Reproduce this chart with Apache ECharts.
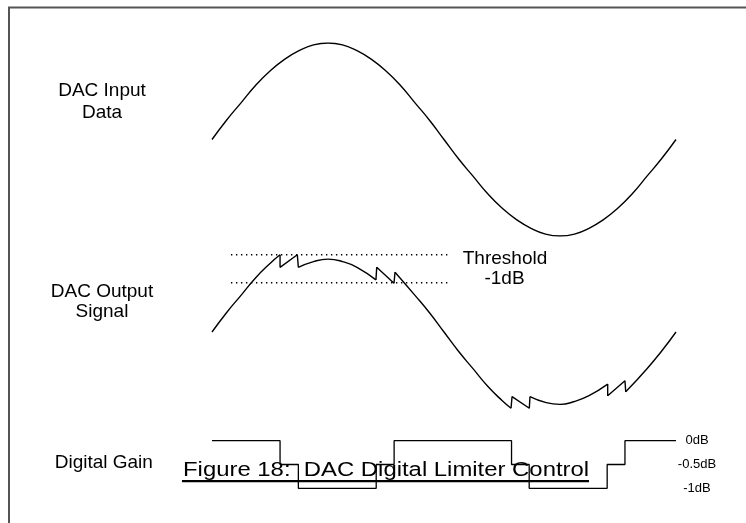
<!DOCTYPE html>
<html>
<head>
<meta charset="utf-8">
<script src="https://cdn.jsdelivr.net/npm/echarts@6/dist/echarts.min.js"></script>
<style>html,body{margin:0;padding:0;background:#fff}#chart{width:746px;height:523px}</style>
</head>
<body>
<div id="chart"></div>
<script>
// Phase axis (degrees) shared by all three traces
const inputPhase = [0, 11.25, 22.5, 33.75, 45, 56.25, 67.5, 78.75, 90, 101.25, 112.5, 123.75, 135, 146.25, 157.5, 168.75,
  180, 191.25, 202.5, 213.75, 225, 236.25, 247.5, 258.75, 270, 281.25, 292.5, 303.75, 315, 326.25, 337.5, 348.75, 360];
// DAC input data (normalised amplitude)
const inputData = [0, 0.2, 0.38, 0.56, 0.71, 0.83, 0.92, 0.98, 1, 0.98, 0.92, 0.83, 0.71, 0.56, 0.38, 0.2,
  0, -0.2, -0.38, -0.56, -0.71, -0.83, -0.92, -0.98, -1, -0.98, -0.92, -0.83, -0.71, -0.56, -0.38, -0.2, 0];

// DAC output signal, piecewise [phase, amplitude]
const outRise = [[0, 0], [11.25, 0.2], [22.5, 0.38], [33.75, 0.56], [45, 0.71], [52.8, 0.8]];
const outLimit1 = [[52.8, 0.8], [52.8, 0.67], [66.2, 0.8], [67, 0.67]];
const outArc1 = [[67, 0.67], [78.75, 0.73], [90, 0.755], [101.25, 0.73], [112.5, 0.67], [127.2, 0.54]];
const outRecover1 = [[127.2, 0.54], [127.8, 0.67], [141.2, 0.505], [142, 0.62]];
const outFall = [[142, 0.62], [157.5, 0.38], [168.75, 0.2], [180, 0], [191.25, -0.2], [202.5, -0.38], [213.75, -0.56], [225, -0.71], [232, -0.79]];
const outLimit2 = [[232, -0.79], [232.8, -0.67], [246.2, -0.79], [246.7, -0.67]];
const outArc2 = [[246.7, -0.67], [258.75, -0.73], [270, -0.75], [281.25, -0.72], [292.5, -0.66], [307, -0.54]];
const outRecover2 = [[307, -0.54], [307, -0.66], [320.4, -0.505], [321, -0.62]];
const outRiseEnd = [[321, -0.62], [337.5, -0.38], [348.75, -0.2], [360, 0]];

// Threshold levels
const thresholdLine = [[14.7, 0.8], [183, 0.8]];
const minus1dBLine = [[14.7, 0.51], [183, 0.51]];

// Digital gain steps [phase, dB]
const gainSteps = [[0, 0], [52.8, -0.5], [67, -1], [127.4, -0.5], [141.3, 0], [232.4, -0.5], [246.1, -1], [306.6, -0.5], [320.4, 0], [360, 0]];
const gainTicks = [0, -0.5, -1];
const gainTickLabels = ['0dB', '-0.5dB', '-1dB'];

const FONT = '"Liberation Sans", Arial, sans-serif';
const chart = echarts.init(document.getElementById('chart'), null, {renderer: 'canvas'});

const black = '#000';
const curveStyle = {color: black, width: 1.4};
function seg(data, smooth, gridIdx) {
  return {type: 'line', xAxisIndex: gridIdx, yAxisIndex: gridIdx, data: data, smooth: smooth,
    symbol: 'none', lineStyle: curveStyle, silent: true};
}
const hiddenX = i => ({type: 'value', gridIndex: i, min: 0, max: 360, show: false});
const hiddenY = i => ({type: 'value', gridIndex: i, min: -1, max: 1, show: false});

function labelText(text, x, y, size, align) {
  return {type: 'text', x: x, y: y, style: {text: text, x: 0, y: 0, fill: '#000', font: size + 'px ' + FONT,
    textAlign: align || 'center', textVerticalAlign: 'middle'}};
}

const dotted = {color: '#000', width: 1.4, type: [1.4, 3.6]};

chart.setOption({
  animation: false,
  backgroundColor: '#fff',
  grid: [
    {left: 212, width: 464, top: 43, height: 193},
    {left: 212, width: 464, top: 235.5, height: 193},
    {left: 212, width: 464, top: 440.7, height: 47.6}
  ],
  xAxis: [hiddenX(0), hiddenX(1), hiddenX(2)],
  yAxis: [hiddenY(0), hiddenY(1), {
    type: 'value', gridIndex: 2, min: -1, max: 0, interval: 0.5, position: 'right',
    axisLine: {show: false}, axisTick: {show: false}, splitLine: {show: false},
    axisLabel: {
      show: true, align: 'center', margin: 21, color: '#000', fontSize: 13, fontFamily: FONT,
      padding: [5, 0, 0, 0],
      formatter: v => { const i = gainTicks.findIndex(t => Math.abs(t - v) < 1e-6); return i >= 0 ? gainTickLabels[i] : ''; }
    }
  }],
  series: [
    seg(inputPhase.map((p, i) => [p, inputData[i]]), 0.5, 0),
    seg(outRise, 0.5, 1),
    seg(outLimit1, false, 1),
    seg(outArc1, 0.5, 1),
    seg(outRecover1, false, 1),
    seg(outFall, 0.5, 1),
    seg(outLimit2, false, 1),
    seg(outArc2, 0.5, 1),
    seg(outRecover2, false, 1),
    seg(outRiseEnd, 0.5, 1),
    {type: 'line', xAxisIndex: 1, yAxisIndex: 1, data: thresholdLine, symbol: 'none', silent: true, lineStyle: dotted},
    {type: 'line', xAxisIndex: 1, yAxisIndex: 1, data: minus1dBLine, symbol: 'none', silent: true, lineStyle: dotted},
    {type: 'line', xAxisIndex: 2, yAxisIndex: 2, data: gainSteps, step: 'end', symbol: 'none', silent: true,
      lineStyle: {color: black, width: 1.3}}
  ],
  graphic: [
    {type: 'rect', shape: {x: 9, y: 7.5, width: 900, height: 900}, style: {fill: null, stroke: '#555', lineWidth: 2}, silent: true},
    labelText('DAC Input', 102, 90.5, 19),
    labelText('Data', 102, 113, 19),
    labelText('DAC Output', 102, 291.3, 19),
    labelText('Signal', 102, 311.8, 19),
    labelText('Digital Gain', 103.8, 462.7, 19),
    labelText('Threshold', 505, 258.7, 19),
    labelText('-1dB', 504.5, 278.3, 19),
    {type: 'text', x: 183, y: 470, scaleX: 1.194, z: 10,
      style: {text: 'Figure 18:  DAC Digital Limiter Control', x: 0, y: 0, fill: '#000', font: '20px ' + FONT,
        textAlign: 'left', textVerticalAlign: 'middle'}},
    {type: 'line', shape: {x1: 182, y1: 481.2, x2: 589, y2: 481.2}, style: {stroke: '#000', lineWidth: 2.2}, z: 10}
  ]
});
</script>
</body>
</html>
